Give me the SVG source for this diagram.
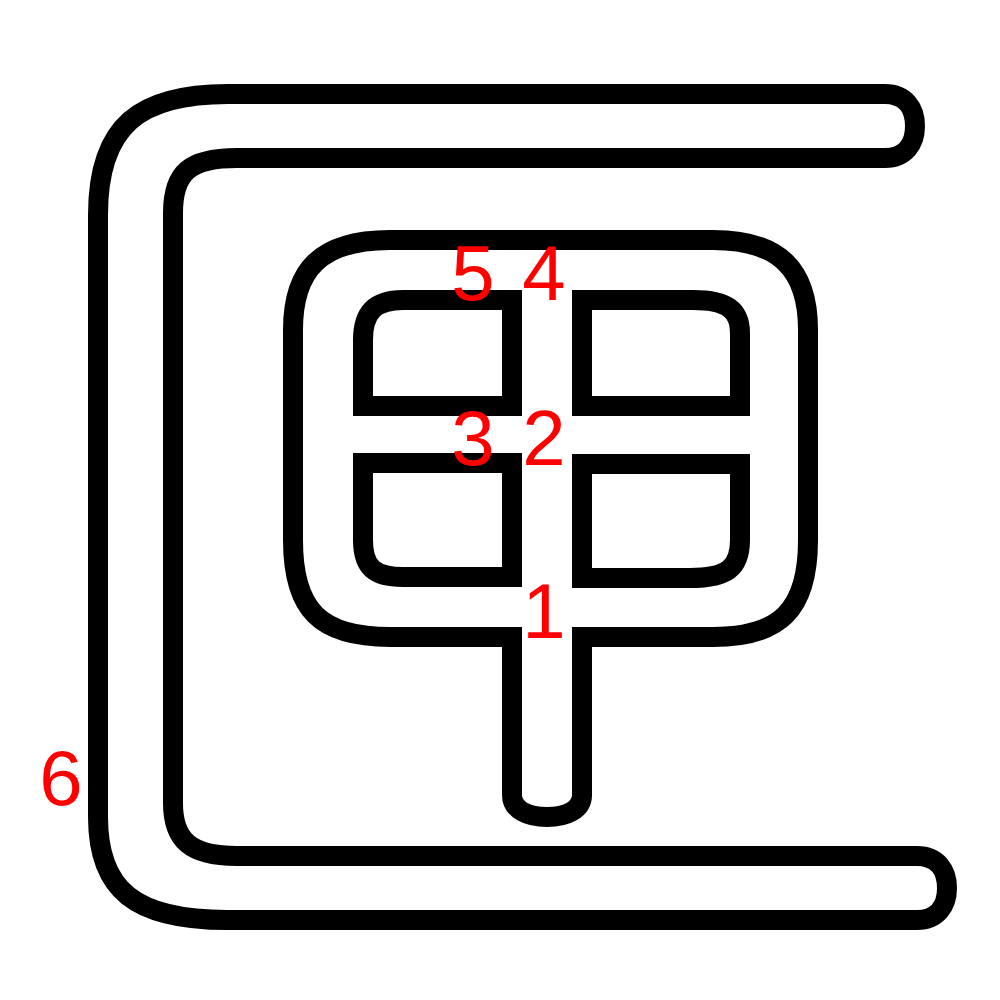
<svg xmlns="http://www.w3.org/2000/svg" width="1000" height="1000" viewBox="0 0 1000 1000">
<style>
.s{fill:none;stroke:#000;stroke-width:20;stroke-linejoin:miter}
.n{fill:#f00;font-family:"Liberation Sans",Arial,sans-serif;font-size:78px;text-anchor:middle}
</style>
<rect width="1000" height="1000" fill="#fff"/>
<g id="contours">
<path id="c6" class="s" d="M 885 94 L 228 94 C 140 94 98 125 98 215 L 98 817 C 98 890 135 920 227 920 L 917 920 C 937 920 947 906 947 888 C 947 870 937 856 917 856 L 237 856 C 190 856 173 840 173 803 L 173 213 C 173 172 190 158 237 158 L 885 158 C 905 158 915 144 915 126 C 915 108 905 94 885 94 Z"/>
<path id="c1" class="s" d="M 390 240 L 713 240 C 780 240 808 270 808 330 L 808 540 C 808 610 780 637 713 637 L 582 637 L 582 795 C 582 810 566 817 547 817 C 528 817 512 810 512 795 L 512 637 L 390 637 C 320 637 293 610 293 540 L 293 330 C 293 270 320 240 390 240 Z"/>
<path id="c5" class="s" d="M 403 300 L 512 300 L 512 406 L 363 406 L 363 340 C 363 312 375 300 403 300 Z"/>
<path id="c3" class="s" d="M 363 463 L 512 463 L 512 577 L 403 577 C 375 577 363 568 363 540 Z"/>
<path id="c4" class="s" d="M 582 300 L 693 300 C 727 300 740 310 740 333 L 740 406 L 582 406 Z"/>
<path id="c2" class="s" d="M 582 464 L 740 464 L 740 540 C 740 568 727 578 690 578 L 582 578 Z"/>
</g>
<g id="labels">
<text class="n" x="473" y="300">5</text>
<text class="n" x="544" y="300">4</text>
<text class="n" x="473" y="465">3</text>
<text class="n" x="544" y="465">2</text>
<text class="n" x="544" y="638">1</text>
<text class="n" x="61" y="805">6</text>
</g>
</svg>
